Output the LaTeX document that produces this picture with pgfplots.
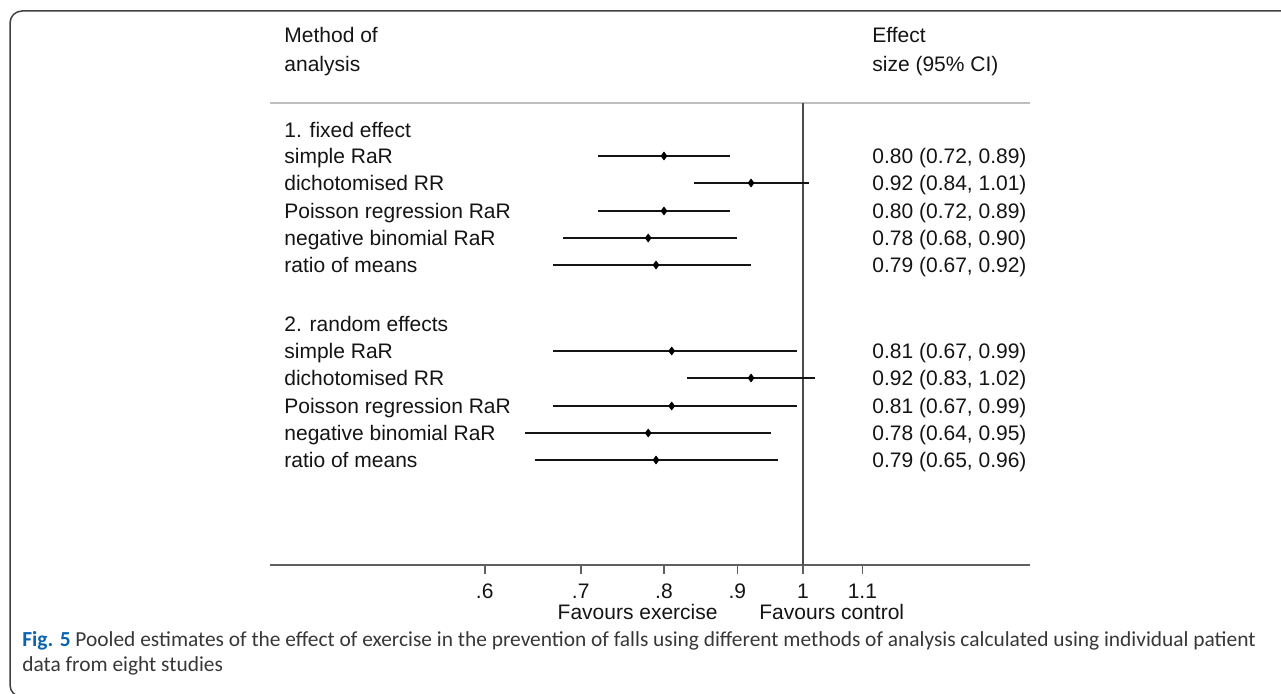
\documentclass[border=0pt]{standalone}
\usepackage{fontspec}
\setmainfont{Liberation Sans}
\newfontfamily\capfont{Carlito}
\usepackage{pgfplots}
\pgfplotsset{compat=1.18}
\definecolor{figblue}{RGB}{10,100,175}
\definecolor{captxt}{RGB}{55,55,55}
\definecolor{txt}{RGB}{20,20,20}
\definecolor{axgray}{RGB}{95,95,95}
\newcommand{\cf}{\fontsize{10.5}{12}\selectfont}
\begin{document}
\begin{tikzpicture}[x=0.5pt,y=-0.5pt]
\useasboundingbox (0,0) rectangle (1281,694);
\draw[rounded corners=6pt, line width=0.75pt, color=black!75] (1300,11) -- (10,11) -- (10,697) -- (1300,697);
\begin{axis}[
  at={(135pt,-282.5pt)}, anchor=south west,
  scale only axis, width=380pt, height=231pt,
  xmode=log, xmin=0.4251, xmax=1.4396,
  ymin=-565, ymax=-103,
  axis line style={draw=none},
  ytick=\empty,
  xtick pos=bottom,
  xtick={0.6,0.7,0.8,0.9,1,1.1},
  xticklabels={.6,.7,.8,.9,1,1.1},
  major tick length=0pt,
  xticklabel style={font=\cf, text=txt, yshift=-5.8pt},
  clip=false,
]
\draw[black!25, line width=0.7pt] (rel axis cs:0,1) -- (rel axis cs:1,1);
\addplot[axgray, line width=0.8pt, unbounded coords=jump] coordinates {
 (0.6,-565) (0.6,-574) (nan,nan)
 (0.7,-565) (0.7,-574) (nan,nan)
 (0.8,-565) (0.8,-574) (nan,nan)
 (0.9,-565) (0.9,-574) (nan,nan)
 (1,-565) (1,-574) (nan,nan)
 (1.1,-565) (1.1,-574)
};
\draw[axgray, line width=1pt] (rel axis cs:0,0) -- (rel axis cs:1,0);
\addplot[black!70, line width=0.7pt] coordinates {(1,-103) (1,-565)};
\addplot[txt, line width=1.3pt, unbounded coords=jump] coordinates {
 (0.72,-156) (0.89,-156) (nan,nan)
 (0.84,-183) (1.01,-183) (nan,nan)
 (0.72,-211) (0.89,-211) (nan,nan)
 (0.68,-238) (0.90,-238) (nan,nan)
 (0.67,-265) (0.92,-265) (nan,nan)
 (0.67,-351) (0.99,-351) (nan,nan)
 (0.83,-378) (1.02,-378) (nan,nan)
 (0.67,-406) (0.99,-406) (nan,nan)
 (0.64,-433) (0.95,-433) (nan,nan)
 (0.65,-460) (0.96,-460)
};
\addplot[only marks, mark=diamond*, mark size=1.9pt, black] coordinates {
 (0.80,-156) (0.92,-183) (0.80,-211) (0.78,-238) (0.79,-265)
 (0.81,-351) (0.92,-378) (0.81,-406) (0.78,-433) (0.79,-460)
};
\end{axis}
\begin{scope}[every node/.style={anchor=base west, inner sep=0pt, font=\cf, text=txt}]
\node at (284,42.5) {Method of};
\node at (284,71.5) {analysis};
\node at (872,42.5) {Effect};
\node at (872,71.5) {size (95\% CI)};
\node at (284,137.5) {1. fixed effect};
\node at (284,163.5) {simple RaR};
\node at (284,190.5) {dichotomised RR};
\node at (284,218.5) {Poisson regression RaR};
\node at (284,245.5) {negative binomial RaR};
\node at (284,272.5) {ratio of means};
\node at (284,331.5) {2. random effects};
\node at (284,358.5) {simple RaR};
\node at (284,385.5) {dichotomised RR};
\node at (284,413.5) {Poisson regression RaR};
\node at (284,440.5) {negative binomial RaR};
\node at (284,467.5) {ratio of means};
\node at (872,163.5) {0.80 (0.72, 0.89)};
\node at (872,190.5) {0.92 (0.84, 1.01)};
\node at (872,218.5) {0.80 (0.72, 0.89)};
\node at (872,245.5) {0.78 (0.68, 0.90)};
\node at (872,272.5) {0.79 (0.67, 0.92)};
\node at (872,358.5) {0.81 (0.67, 0.99)};
\node at (872,385.5) {0.92 (0.83, 1.02)};
\node at (872,413.5) {0.81 (0.67, 0.99)};
\node at (872,440.5) {0.78 (0.64, 0.95)};
\node at (872,467.5) {0.79 (0.65, 0.96)};
\node[anchor=base east] at (718,620) {Favours exercise};
\node at (759,620) {Favours control};
\end{scope}
\begin{scope}[every node/.style={anchor=base west, inner sep=0pt, font=\capfont\fontsize{10.7}{12}\selectfont, text=captxt}]
\node at (22,647) {\textcolor{figblue}{\bfseries Fig. 5} Pooled estimates of the effect of exercise in the prevention of falls using different methods of analysis calculated using individual patient};
\node at (22,672) {data from eight studies};
\end{scope}
\end{tikzpicture}
\end{document}
